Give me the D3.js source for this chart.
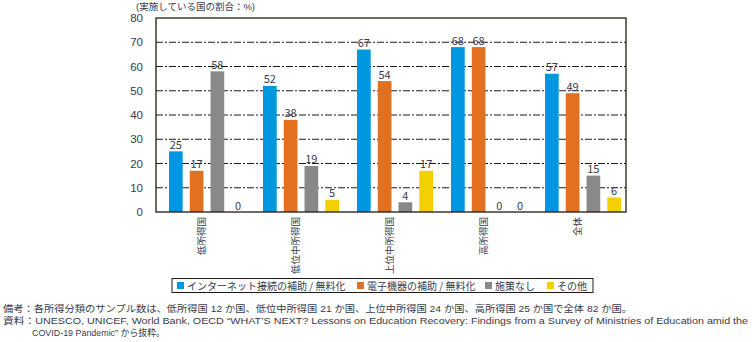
<!DOCTYPE html>
<html><head><meta charset="utf-8">
<script src="https://cdn.jsdelivr.net/npm/d3@7"></script>
<style>
body{margin:0;background:#fff;}
svg{display:block;font-family:"Noto Sans CJK JP","Noto Sans",sans-serif;}
</style></head>
<body>
<script>
const categories = ["低所得国","低位中所得国","上位中所得国","高所得国","全体"];
const seriesNames = ["インターネット接続の補助 / 無料化","電子機器の補助 / 無料化","施策なし","その他"];
const seriesColors = ["#0097e0","#e3701e","#898989","#f3d000"];
const internet = [25,52,67,68,57];
const devices = [17,38,54,68,49];
const none = [58,19,4,0,15];
const other = [0,5,17,0,6];
const yTicks = [0,10,20,30,40,50,60,70,80];
const yTitle = "(実施している国の割合：%)";
const notes = [
  "備考：各所得分類のサンプル数は、低所得国 12 か国、低位中所得国 21 か国、上位中所得国 24 か国、高所得国 25 か国で全体 82 か国。",
  "資料：UNESCO, UNICEF, World Bank, OECD “WHAT’S NEXT? Lessons on Education Recovery: Findings from a Survey of Ministries of Education amid the",
  "COVID-19 Pandemic” から抜粋。"
];

(function(){
const series = [internet, devices, none, other];
const W = 752, H = 342;
const pL = 156, pR = 626, pT = 18, pB = 212;
const latinFirst = "'Liberation Sans','Noto Sans CJK JP',sans-serif";

const svg = d3.select("body").append("svg").attr("width", W).attr("height", H);

const x0 = d3.scaleBand().domain(categories).range([pL, pR]).padding(0);
const x1 = d3.scaleBand().domain(d3.range(4)).range([13, 89]).paddingInner(0.34).paddingOuter(0);
const y = d3.scaleLinear().domain([0, 80]).range([pB, pT]);

// gridlines
svg.append("g").selectAll("line").data(yTicks.filter(d => d > 0 && d < 80)).join("line")
  .attr("x1", pL).attr("x2", pR)
  .attr("y1", d => y(d)).attr("y2", d => y(d))
  .attr("stroke", "#231815").attr("stroke-width", 1)
  .attr("stroke-dasharray", "7,2,2,2");

// bars
const groups = svg.append("g").selectAll("g").data(categories).join("g")
  .attr("transform", c => `translate(${x0(c)},0)`);
groups.each(function(c, ci) {
  const g = d3.select(this);
  series.forEach((s, si) => {
    const v = s[ci];
    if (v > 0) {
      g.append("rect")
        .attr("x", x1(si)).attr("width", x1.bandwidth())
        .attr("y", y(v)).attr("height", y(0) - y(v))
        .attr("fill", seriesColors[si]);
    }
    g.append("text")
      .attr("x", x1(si) + x1.bandwidth() / 2)
      .attr("y", y(v) - 2.5)
      .attr("text-anchor", "middle")
      .attr("font-size", 11)
      .attr("fill", "#3a3a4a")
      .text(v);
  });
});

// frame
svg.append("rect").attr("x", pL).attr("y", pT)
  .attr("width", pR - pL).attr("height", pB - pT)
  .attr("fill", "none").attr("stroke", "#231815").attr("stroke-width", 1.3);

// y axis
const yAxis = d3.axisLeft(y).tickValues(yTicks).tickSize(0).tickPadding(13);
const ya = svg.append("g").attr("transform", `translate(${pL},0)`).call(yAxis);
ya.select(".domain").remove();
ya.selectAll("text").attr("font-size", 11.5).attr("fill", "#3a3a4a")
  .attr("font-family", latinFirst);

// y title
svg.append("text").attr("x", 136).attr("y", 9.5).attr("font-size", 9.5)
  .attr("font-family", latinFirst)
  .attr("fill", "#3a3a4a").text(yTitle);

// category labels (rotated)
svg.append("g").selectAll("text").data(categories).join("text")
  .attr("transform", c => `translate(${x0(c) + x0.bandwidth() / 2 - 1},217) rotate(-90)`)
  .attr("text-anchor", "end").attr("dy", "0.35em")
  .attr("font-size", 9.5).attr("fill", "#3a3a4a")
  .text(c => c);

// legend
svg.append("rect").attr("x", 172).attr("y", 278.5).attr("width", 421).attr("height", 14)
  .attr("fill", "none").attr("stroke", "#231815").attr("stroke-width", 1);
const legX = [177, 357, 485, 547];
const leg = svg.append("g").selectAll("g").data(seriesNames).join("g")
  .attr("transform", (d, i) => `translate(${legX[i]},0)`);
leg.append("rect").attr("x", 0).attr("y", 282).attr("width", 7).attr("height", 7)
  .attr("fill", (d, i) => seriesColors[i]);
leg.append("text").attr("x", 10).attr("y", 289.5).attr("font-size", 10)
  .attr("fill", "#3a3a4a").text(d => d);

// notes
const noteX = [3, 3, 32];
const noteY = [312, 324, 336];
const noteLen = [629, 745, 133];
svg.append("g").selectAll("text").data(notes).join("text")
  .attr("x", (d, i) => noteX[i]).attr("y", (d, i) => noteY[i])
  .attr("font-size", 9.5).attr("fill", "#3a3a4a")
  .attr("font-family", latinFirst)
  .attr("textLength", (d, i) => noteLen[i]).attr("lengthAdjust", "spacingAndGlyphs")
  .text(d => d);
})();
</script>
</body></html>
